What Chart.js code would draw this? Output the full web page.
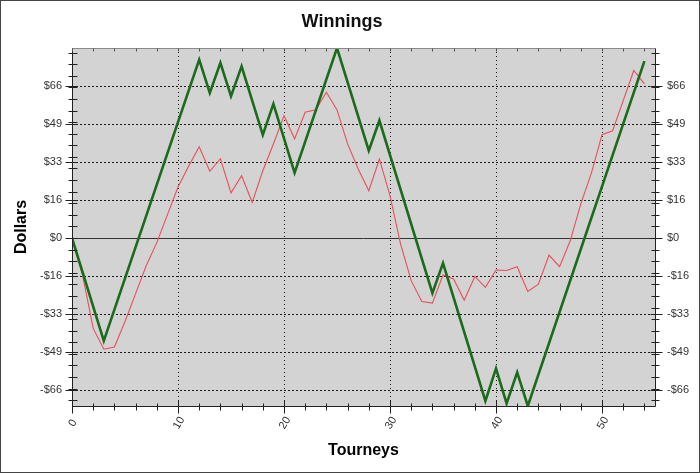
<!DOCTYPE html>
<html><head><meta charset="utf-8">
<script src="https://cdn.jsdelivr.net/npm/chart.js@4.4.1/dist/chart.umd.min.js"></script>
<style>html,body{margin:0;padding:0;background:#fff;overflow:hidden}canvas{display:block}</style>
</head><body>
<canvas id="c" width="700" height="473"></canvas>
<script>
const chartTitle = 'Winnings';
const xTitle = 'Tourneys';
const yTitle = 'Dollars';

const redX = [0,1,2,3,4,5,6,7,8,9,10,11,12,13,14,15,16,17,18,19,20,21,22,23,24,25,26,27,28,29,30,31,32,33,34,35,36,37,38,39,40,41,42,43,44,45,46,47,48,49,50,51,52,53,54];
const redY = [0,-16,-39,-48,-47,-36,-24,-12,-2,10,22,31,39.4,28.8,34.2,19.5,26.9,15.4,29,40.6,52.8,42.8,54.3,55.3,62.9,55.3,40.6,29.8,20.4,34.1,18.3,-2.6,-18.4,-27.4,-28.1,-16,-17.7,-26.8,-16.6,-21.3,-13.8,-14,-12.4,-23.1,-19.9,-7.4,-12.4,-1.2,14.7,28,44.6,46.3,59.3,72.3,66.5];

const greenX = [0,3,12,13,14,15,16,18,19,21,25,28,29,34,35,39,40,41,42,43,54];
const greenY = [0,-44.4,77,62.6,75.6,61.2,74.1,44.5,57.9,28.1,82,37.7,50.7,-23.8,-10.8,-70.3,-56.3,-71.4,-58,-72.5,76.3];

const xTickValues = [0,10,20,30,40,50];
const xTickLabels = ['0','10','20','30','40','50'];
const yTickValues = [-65.6,-49.2,-32.8,-16.4,0,16.4,32.8,49.2,65.6];
const yTickLabels = ['-$66','-$49','-$33','-$16','$0','$16','$33','$49','$66'];

const X_MIN = 0, X_MAX = 55, Y_MIN = -72.5, Y_MAX = 82;

const PAD = {left: 2, right: 18, top: 0, bottom: 6};
const AREA = {left: 72, right: 655, top: 48, bottom: 406};
const W = 700, H = 473;
const FONT = '"Liberation Sans", Arial, sans-serif';

const deco = {
  id: 'deco',
  afterLayout(chart) {
    // let right-axis labels use the full width up to the canvas edge
    chart.scales.y2.right = chart.width;
  },
  beforeDraw(chart) {
    const {ctx, chartArea: a} = chart;
    ctx.save();
    ctx.fillStyle = '#ffffff';
    ctx.fillRect(0, 0, chart.width, chart.height);
    ctx.fillStyle = '#d3d3d3';
    ctx.fillRect(a.left, a.top, a.right - a.left, a.bottom - a.top);
    ctx.restore();
  },
  beforeDatasetsDraw(chart) {
    const {ctx, chartArea: a, scales: {x, y}} = chart;
    ctx.save();
    ctx.lineWidth = 1;
    ctx.strokeStyle = '#1a1a1a';
    ctx.setLineDash([2, 2]);
    yTickValues.forEach(v => {
      if (v === 0) return;
      const py = Math.round(y.getPixelForValue(v)) + 0.5;
      ctx.beginPath(); ctx.moveTo(a.left, py); ctx.lineTo(a.right, py); ctx.stroke();
    });
    ctx.setLineDash([1, 3]);
    xTickValues.forEach(v => {
      if (v === 0) return;
      const px = Math.round(x.getPixelForValue(v)) + 0.5;
      ctx.beginPath(); ctx.moveTo(px, a.top); ctx.lineTo(px, a.bottom); ctx.stroke();
    });
    ctx.setLineDash([]);
    ctx.strokeStyle = '#333';
    const pz = Math.round(y.getPixelForValue(0)) + 0.5;
    ctx.beginPath(); ctx.moveTo(a.left, pz); ctx.lineTo(a.right, pz); ctx.stroke();
    ctx.restore();
  },
  afterDraw(chart) {
    const {ctx, chartArea: a, scales: {x, y}} = chart;
    ctx.save();
    ctx.lineWidth = 1;
    const L = a.left + 0.5, R = Math.round(a.right) + 0.5, T = a.top + 0.5, B = Math.round(a.bottom) + 0.5;
    // borders
    ctx.strokeStyle = '#8a8a8a';
    ctx.beginPath(); ctx.moveTo(L, T); ctx.lineTo(R, T); ctx.stroke();
    ctx.strokeStyle = '#222';
    ctx.beginPath(); ctx.moveTo(L, T); ctx.lineTo(L, B); ctx.lineTo(R, B); ctx.lineTo(R, T); ctx.stroke();
    // y ticks left & right
    for (let v = -70; v <= 80; v += 5) {
      const py = Math.round(y.getPixelForValue(v)) + 0.5;
      ctx.beginPath(); ctx.moveTo(L - 4, py); ctx.lineTo(L + 5, py); ctx.stroke();
      ctx.beginPath(); ctx.moveTo(R - 4, py); ctx.lineTo(R + 4, py); ctx.stroke();
    }
    yTickValues.forEach(v => {
      const py = Math.round(y.getPixelForValue(v)) + 0.5;
      ctx.beginPath(); ctx.moveTo(L - 7, py); ctx.lineTo(L + 5, py); ctx.stroke();
      ctx.beginPath(); ctx.moveTo(R - 5, py); ctx.lineTo(R + 7, py); ctx.stroke();
    });
    // x ticks bottom & top
    for (let v = 0; v <= 54; v += 2) {
      const px = Math.round(x.getPixelForValue(v)) + 0.5;
      ctx.strokeStyle = '#222';
      ctx.beginPath(); ctx.moveTo(px, B - 3); ctx.lineTo(px, B + 4); ctx.stroke();
      ctx.strokeStyle = '#555';
      ctx.beginPath(); ctx.moveTo(px, T); ctx.lineTo(px, T + 3); ctx.stroke();
    }
    ctx.strokeStyle = '#222';
    xTickValues.forEach(v => {
      const px = Math.round(x.getPixelForValue(v)) + 0.5;
      ctx.beginPath(); ctx.moveTo(px, B - 6); ctx.lineTo(px, B + 7); ctx.stroke();
    });
    // x tick labels, rotated about their centre
    ctx.fillStyle = '#333';
    ctx.font = '11px ' + FONT;
    ctx.textAlign = 'center';
    ctx.textBaseline = 'middle';
    xTickValues.forEach((v, i) => {
      const px = x.getPixelForValue(v) + 1;
      ctx.save();
      ctx.translate(px, a.bottom + 17);
      ctx.rotate(-Math.PI / 3);
      ctx.fillText(xTickLabels[i], 0, 0);
      ctx.restore();
    });
    // outer frame
    ctx.strokeStyle = '#444';
    ctx.strokeRect(0.5, 0.5, chart.width - 1, chart.height - 1);
    ctx.restore();
  }
};

const tickFont = {family: FONT, size: 11};
const titleFont = {family: FONT, size: 16, weight: 'bold'};

function yTicksSetter(scale) {
  scale.ticks = yTickValues.map(v => ({value: v}));
}

new Chart(document.getElementById('c'), {
  type: 'line',
  data: {
    datasets: [
      {
        label: 'Green',
        data: greenX.map((v, i) => ({x: v, y: greenY[i]})),
        borderColor: '#1c6b1c',
        borderWidth: 2.6,
        pointRadius: 0,
        tension: 0,
        fill: false
      },
      {
        label: 'Red',
        data: redX.map((v, i) => ({x: v, y: redY[i]})),
        borderColor: '#e8505a',
        borderWidth: 1.1,
        pointRadius: 0,
        tension: 0,
        fill: false
      }
    ]
  },
  options: {
    responsive: false,
    devicePixelRatio: 1,
    animation: false,
    layout: {padding: PAD},
    plugins: {
      legend: {display: false},
      tooltip: {enabled: false},
      title: {
        display: true,
        text: chartTitle,
        color: '#111',
        font: {family: FONT, size: 18, weight: 'bold'},
        padding: {top: 11, bottom: AREA.top - 11 - 18 * 1.2}
      }
    },
    scales: {
      x: {
        type: 'linear',
        position: 'bottom',
        min: X_MIN, max: X_MAX,
        afterBuildTicks: s => { s.ticks = xTickValues.map(v => ({value: v})); },
        afterFit: s => { s.height = H - PAD.bottom - AREA.bottom; },
        grid: {display: false, drawTicks: false},
        border: {display: false},
        ticks: {display: false},
        title: {display: true, text: xTitle, color: '#000', font: titleFont, padding: {top: 0, bottom: 7}}
      },
      y: {
        type: 'linear',
        position: 'left',
        min: Y_MIN, max: Y_MAX,
        afterBuildTicks: yTicksSetter,
        afterFit: s => { s.width = AREA.left - PAD.left; },
        grid: {display: false, drawTicks: false},
        border: {display: false},
        ticks: {
          font: tickFont, color: '#333', padding: 10,
          callback: (v) => yTickLabels[yTickValues.indexOf(v)]
        },
        title: {display: true, text: yTitle, color: '#000', font: titleFont, padding: {top: 10, bottom: 0}}
      },
      y2: {
        type: 'linear',
        position: 'right',
        display: true,
        min: Y_MIN, max: Y_MAX,
        afterBuildTicks: yTicksSetter,
        afterFit: s => { s.width = W - PAD.right - AREA.right; },
        grid: {display: false, drawTicks: false},
        border: {display: false},
        ticks: {
          font: tickFont, color: '#333', padding: 12,
          callback: (v) => yTickLabels[yTickValues.indexOf(v)]
        }
      }
    }
  },
  plugins: [deco]
});
</script>
</body></html>
